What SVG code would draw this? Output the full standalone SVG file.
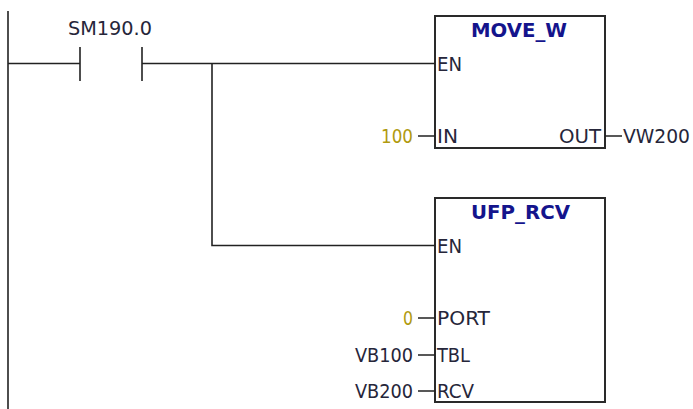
<svg xmlns="http://www.w3.org/2000/svg" width="693" height="409" viewBox="0 0 693 409">
<style>
text{font-family:"DejaVu Sans Condensed","DejaVu Sans",sans-serif;font-size:20px;fill:#26263a}
.t{font-weight:700;fill:#14148c;text-anchor:middle}
.c{fill:#b09a10;text-anchor:end}
.r{text-anchor:end}
.w{fill:none;stroke:#222;stroke-width:1.6}
.b{fill:#fff;stroke:#2a2a2a;stroke-width:2}
</style>
<rect width="693" height="409" fill="#fff"/>
<g id="ufp_rcv">
<rect class="b" x="435" y="198" width="170" height="204"/>
<text class="t" x="520.5" y="219" textLength="99" lengthAdjust="spacingAndGlyphs">UFP_RCV</text>
<text x="437" y="253" textLength="25" lengthAdjust="spacingAndGlyphs">EN</text>
<text x="437" y="325" textLength="53" lengthAdjust="spacingAndGlyphs">PORT</text>
<text x="437" y="362" textLength="33" lengthAdjust="spacingAndGlyphs">TBL</text>
<text x="437" y="398" textLength="37" lengthAdjust="spacingAndGlyphs">RCV</text>
<text class="c" x="413" y="325" textLength="10" lengthAdjust="spacingAndGlyphs">0</text>
<text class="r" x="413" y="362" textLength="58" lengthAdjust="spacingAndGlyphs">VB100</text>
<text class="r" x="413" y="398" textLength="58" lengthAdjust="spacingAndGlyphs">VB200</text>
</g>
<g id="move_w">
<rect class="b" x="435" y="16" width="170" height="132"/>
<text class="t" x="519" y="37" textLength="96" lengthAdjust="spacingAndGlyphs">MOVE_W</text>
<text x="437" y="70.5" textLength="25" lengthAdjust="spacingAndGlyphs">EN</text>
<text x="437" y="143" textLength="21" lengthAdjust="spacingAndGlyphs">IN</text>
<text class="r" x="601" y="143" textLength="42" lengthAdjust="spacingAndGlyphs">OUT</text>
<text class="c" x="413" y="143" textLength="32" lengthAdjust="spacingAndGlyphs">100</text>
<text x="623" y="143" textLength="67" lengthAdjust="spacingAndGlyphs">VW200</text>
</g>
<g id="contact">
<path class="w" d="M80 47V81M142 47V81"/>
<text x="110" y="35" text-anchor="middle" textLength="84" lengthAdjust="spacingAndGlyphs">SM190.0</text>
</g>
<g id="connectors">
<path class="w" d="M8 11V409M8 63.5H80M142 63.5H435M212 63.5V245.5H435M418 136H435M605 136H622M418 318H435M418 355H435M418 391H435"/>
</g>
</svg>
